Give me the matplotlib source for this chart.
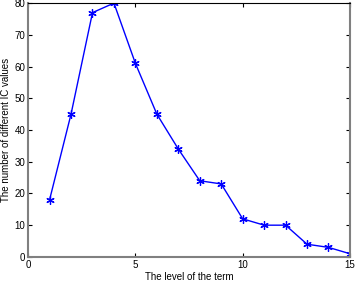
import matplotlib
matplotlib.use("Agg")
import matplotlib.pyplot as plt

plt.rcParams["font.family"] = ["Liberation Sans", "DejaVu Sans"]

levels = [1, 2, 3, 4, 5, 6, 7, 8, 9, 10, 11, 12, 13, 14, 15]
counts = [18, 45, 77, 80, 61, 45, 34, 24, 23, 12, 10, 10, 4, 3, 1]
xticks = [0, 5, 10, 15]
yticks = [0, 10, 20, 30, 40, 50, 60, 70, 80]

fig = plt.figure(figsize=(3.56, 2.82), dpi=100)
ax = fig.add_axes([0.079, 0.089, 0.904, 0.9])
ax.plot(levels, counts, color="#0000ff", lw=1.0, marker=(6, 2, 0),
        markersize=6, markeredgewidth=0.9)
ax.set_xlim(0, 15)
ax.set_ylim(0, 80)
ax.set_xticks(xticks)
ax.set_yticks(yticks)
ax.tick_params(direction="in", length=3, labelsize=7, top=True, right=True,
               pad=2)
for s in ["left", "bottom", "right"]:
    ax.spines[s].set_color("#808080")
    ax.spines[s].set_linewidth(1.5)
ax.spines["top"].set_color("black")
ax.spines["top"].set_linewidth(0.8)
ax.set_xlabel("The level of the term", fontsize=7)
ax.set_ylabel("The number of different IC values", fontsize=7)
ax.xaxis.set_label_coords(0.5, -0.079)
ax.xaxis.label.set_va("center")
ax.yaxis.set_label_coords(-0.068, 0.5)
ax.yaxis.label.set_va("center")
fig.savefig("out.png", dpi=100)
